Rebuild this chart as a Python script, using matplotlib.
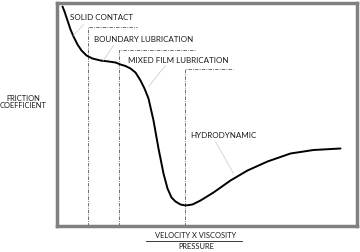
import matplotlib
matplotlib.use("Agg")
import matplotlib.pyplot as plt
from matplotlib.lines import Line2D

# ---- data (x = velocity*viscosity/pressure, y = friction coefficient; arbitrary units)
curve_x = [6, 8, 11, 14, 17, 21, 25, 30, 36, 44, 52, 59, 64, 69, 74, 79, 84, 88,
           92, 97, 102, 107, 111, 115, 119, 124, 129, 136, 144, 157, 174, 191,
           211, 234, 257, 284]
curve_y = [219, 214, 205, 196, 189, 181, 175, 170, 167, 165, 164, 163, 161, 159.5,
           157, 153, 145, 137, 127, 105, 77, 52, 37, 28, 24, 21, 20, 21, 25, 33,
           45, 55, 64, 72, 75.5, 77]

regime_x = [31, 62, 128]          # regime boundaries
regime_top = [199, 176, 157]      # height of each boundary marker
regime_end = [80, 138, 176]       # end of horizontal marker
labels = ["SOLID CONTACT", "BOUNDARY LUBRICATION", "MIXED FILM LUBRICATION", "HYDRODYNAMIC"]
label_x = [14, 37, 72, 134]
label_y = [209, 187, 166, 91]
leader_start = [(27, 201), (57, 180), (109, 160), (159, 84)]
leader_end = [(17, 190), (47, 165), (92, 139), (177, 52)]

W, H = 360, 253
fig = plt.figure(figsize=(W / 100, H / 100), dpi=100)
plt.rcParams['font.family'] = ['Lato', 'DejaVu Sans']
FS = 5.8
FS2 = 5.4
TC = '#1a1a1a'

ax = fig.add_axes([56.5 / W, 1 - 226.5 / H, 300 / W, 223 / H])
ax.set_xlim(0, 300)
ax.set_ylim(0, 223)
ax.set_xticks([])
ax.set_yticks([])
for s in ax.spines.values():
    s.set_color('#808080')
    s.set_linewidth(2.5)

# regime markers
for xb, yt, xe in zip(regime_x, regime_top, regime_end):
    ax.plot([xb, xb, xe], [0, yt, yt], color='#555555', lw=0.6,
            linestyle=(0, (4, 1.5, 1, 1.5)))

# curve
ax.plot(curve_x, curve_y, color='black', lw=1.4, solid_capstyle='round')

# labels & leaders
for t, lx, ly, (sx, sy), (ex, ey) in zip(labels, label_x, label_y, leader_start, leader_end):
    ax.text(lx, ly, t, fontsize=FS, color=TC, ha='left', va='center')
    ax.plot([sx, ex], [sy, ey], color='#c8c8c8', lw=0.5)

# axis labels
fig.text(23 / W, 1 - 102 / H, "FRICTION\nCOEFFICIENT", fontsize=FS2, color=TC,
         ha='center', va='center', linespacing=1.1)
fig.text(196 / W, 1 - 235.5 / H, "VELOCITY X VISCOSITY", fontsize=FS2, color=TC,
         ha='center', va='center')
fig.add_artist(Line2D([146 / W, 242 / W], [1 - 241.5 / H, 1 - 241.5 / H],
                      color=TC, lw=0.6, transform=fig.transFigure))
fig.text(196 / W, 1 - 247 / H, "PRESSURE", fontsize=FS2, color=TC,
         ha='center', va='center')

fig.savefig("out.png", dpi=100)
